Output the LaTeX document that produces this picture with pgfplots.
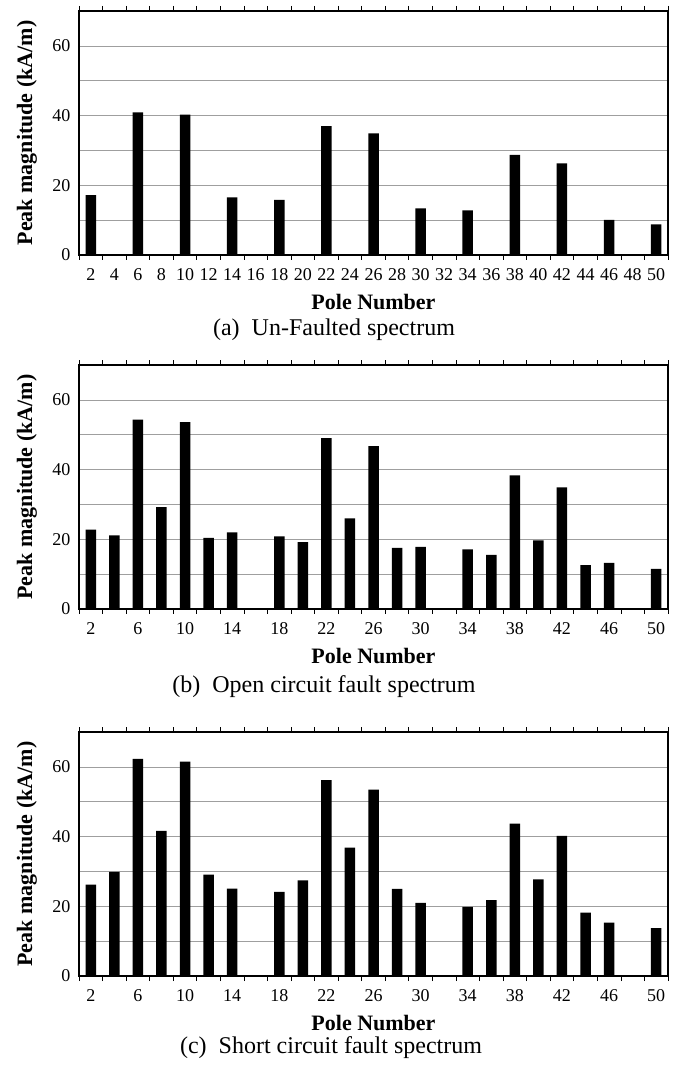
\documentclass[border=0pt]{standalone}
\usepackage{fontspec}
\setmainfont{Liberation Serif}
\usepackage{pgfplots}
\pgfplotsset{compat=1.18}
\begin{document}
\begin{tikzpicture}[x=1pt,y=1pt]
\path (0,0) rectangle (676,1065);
\pgfplotsset{
  spec/.style={
    ybar, bar width=10.5pt, scale only axis, width=589pt, height=244pt,
    xmin=1, xmax=51, ymin=0, ymax=70,
    axis line style={line width=1.1pt},
    ytick={0,10,...,70}, yticklabels={0,,20,,40,,60,},
    ymajorgrids, grid style={gray!75, line width=0.7pt},
    major tick length=0pt,
    extra x ticks={1,3,...,51}, extra x tick labels={},
    extra x tick style={major tick length=5pt, tick align=outside, grid=none,
      tick style={line width=0.7pt, black}},
    /pgf/number format/assume math mode=true,
    ticklabel style={font=\fontsize{18}{18}\selectfont},
    xticklabel style={anchor=center, yshift=-20pt},
    yticklabel style={anchor=east, xshift=-5pt},
    every axis x label/.style={at={(rel axis cs:0.5,0)}, anchor=center, yshift=-47pt,
      font=\fontsize{22}{22}\selectfont\bfseries},
    every axis y label/.style={at={(rel axis cs:0,0.5)}, xshift=-52pt, rotate=90, anchor=center,
      font=\fontsize{22}{22}\selectfont\bfseries},
    xlabel={Pole Number}, ylabel={Peak magnitude (kA/m)},
    clip=false,
  }
}
\begin{axis}[spec, at={(79pt,810pt)}, anchor=south west, xtick={2,4,...,50}]
\addplot[fill=black, draw=none] coordinates {
(2,17.2) (6,40.9) (10,40.3) (14,16.5) (18,15.8) (22,37.0) (26,34.9)
(30,13.4) (34,12.8) (38,28.7) (42,26.3) (46,10.1) (50,8.8)};
\end{axis}
\begin{axis}[spec, at={(79pt,456pt)}, anchor=south west, xtick={2,6,...,50}]
\addplot[fill=black, draw=none] coordinates {
(2,22.8) (4,21.1) (6,54.3) (8,29.2) (10,53.6) (12,20.4) (14,22.0)
(18,20.8) (20,19.2) (22,49.0) (24,26.0) (26,46.7) (28,17.5) (30,17.8)
(34,17.1) (36,15.5) (38,38.3) (40,19.7) (42,34.9) (44,12.6) (46,13.2) (50,11.5)};
\end{axis}
\begin{axis}[spec, at={(79pt,89pt)}, anchor=south west, xtick={2,6,...,50}]
\addplot[fill=black, draw=none] coordinates {
(2,26.2) (4,29.9) (6,62.3) (8,41.6) (10,61.5) (12,29.1) (14,25.1)
(18,24.1) (20,27.4) (22,56.2) (24,36.8) (26,53.5) (28,25.0) (30,21.0)
(34,19.8) (36,21.8) (38,43.7) (40,27.7) (42,40.2) (44,18.2) (46,15.3) (50,13.7)};
\end{axis}
\node[font=\fontsize{24}{24}\selectfont] at (334,735) {(a)~~Un-Faulted spectrum};
\node[font=\fontsize{24}{24}\selectfont] at (324,378) {(b)~~Open circuit fault spectrum};
\node[font=\fontsize{24}{24}\selectfont] at (331,17) {(c)~~Short circuit fault spectrum};
\end{tikzpicture}
\end{document}
